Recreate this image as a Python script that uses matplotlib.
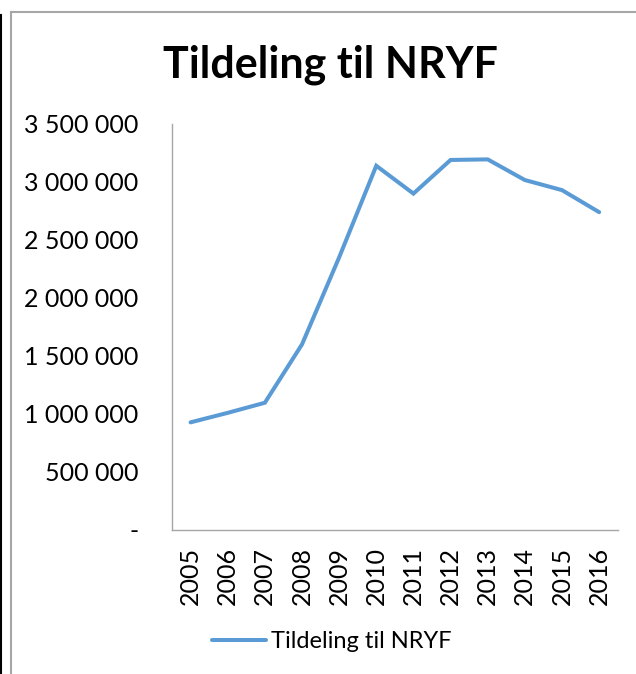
import matplotlib
matplotlib.use("Agg")
import matplotlib.pyplot as plt
from matplotlib.lines import Line2D
from matplotlib.ticker import FuncFormatter

years = ["2005", "2006", "2007", "2008", "2009", "2010", "2011", "2012", "2013", "2014", "2015", "2016"]
values = [928000, 1010000, 1097000, 1600000, 2350000, 3140000, 2900000, 3190000, 3195000, 3017000, 2930000, 2740000]
title = "Tildeling til NRYF"
series_name = "Tildeling til NRYF"
yticks = [0, 500000, 1000000, 1500000, 2000000, 2500000, 3000000, 3500000]

plt.rcParams['font.family'] = ['Lato', 'DejaVu Sans']

fig = plt.figure(figsize=(6.36, 6.74), dpi=100)
ax = fig.add_axes([172/636, 1-530/674, (617.7-172)/636, (530-124)/674])

x = list(range(len(years)))
line, = ax.plot(x, values, color="#5B9BD5", lw=2.9, solid_capstyle="round", solid_joinstyle="miter")

ax.set_xlim(-0.5, len(years) - 0.5)
ax.set_ylim(0, 3500000)
ax.set_yticks(yticks)
ax.yaxis.set_major_formatter(FuncFormatter(lambda v, p: "-" if v == 0 else f"{int(v):,}".replace(",", " ")))
ax.set_xticks(x)
ax.set_xticklabels(years, rotation=90)

for s in ["top", "right"]:
    ax.spines[s].set_visible(False)
for s in ["left", "bottom"]:
    ax.spines[s].set_color("#A6A6A6")
    ax.spines[s].set_linewidth(1.0)

ax.tick_params(axis="both", length=0, labelsize=18, colors="black")
ax.tick_params(axis="y", pad=24)
ax.tick_params(axis="x", pad=12)

fig.text(330/636, 1-65/674, title, ha="center", va="center", fontsize=31, fontweight="bold")

fig.legend([line], [series_name], loc="center", bbox_to_anchor=(332/636, 1-642/674),
           frameon=False, fontsize=17, handlelength=2.3, handletextpad=0.2)

# chart frame lines
fig.add_artist(Line2D([11/636, 11/636], [0, 1-12/674], color="#A6A6A6", lw=1.5, transform=fig.transFigure))
fig.add_artist(Line2D([11/636, 1], [1-12/674, 1-12/674], color="#A6A6A6", lw=1.5, transform=fig.transFigure))
fig.add_artist(Line2D([1/636, 1/636], [0, 1-15/674], color="black", lw=1.5, transform=fig.transFigure))

fig.savefig("out.png", dpi=100)
